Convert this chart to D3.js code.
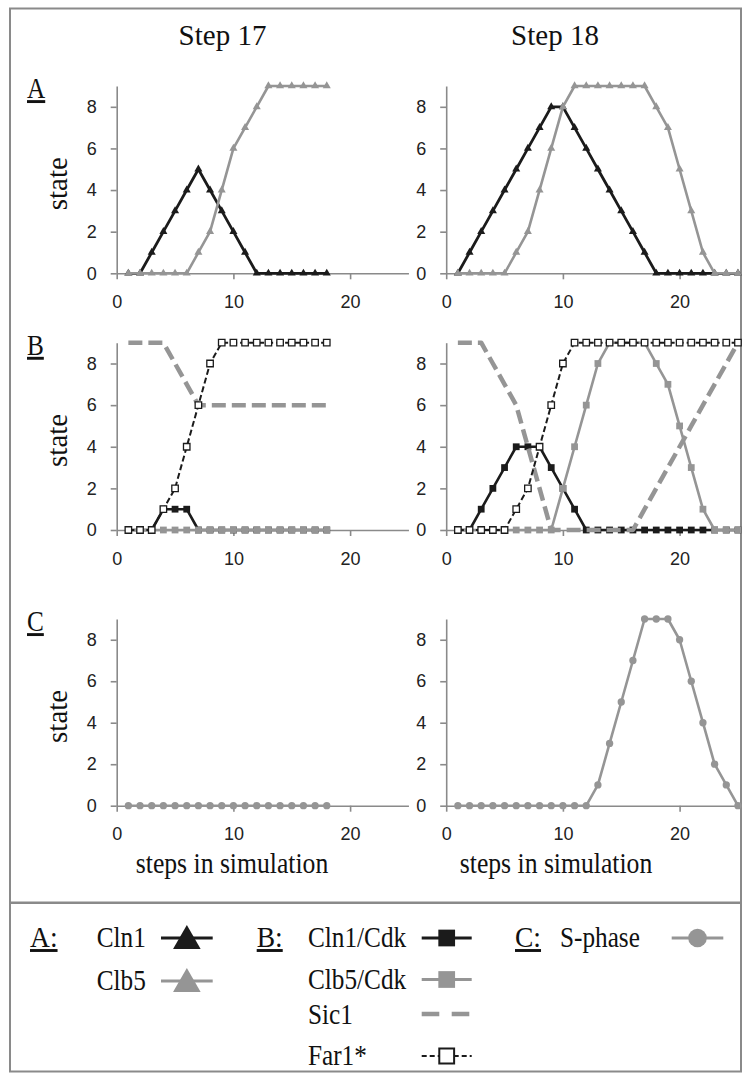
<!DOCTYPE html>
<html>
<head>
<meta charset="utf-8">
<script src="https://cdn.jsdelivr.net/npm/d3@7"></script>
<style>
  body { margin: 0; background: #fff; }
  svg { display: block; }
</style>
</head>
<body>
<script>
// steps along the simulation
var steps17 = [1, 2, 3, 4, 5, 6, 7, 8, 9, 10, 11, 12, 13, 14, 15, 16, 17, 18];
var steps18 = [1, 2, 3, 4, 5, 6, 7, 8, 9, 10, 11, 12, 13, 14, 15, 16, 17, 18, 19, 20, 21, 22, 23, 24, 25];

// A
var cln1_17 = [0, 0, 1, 2, 3, 4, 5, 4, 3, 2, 1, 0, 0, 0, 0, 0, 0, 0];
var clb5_17 = [0, 0, 0, 0, 0, 0, 1, 2, 4, 6, 7, 8, 9, 9, 9, 9, 9, 9];
var cln1_18 = [0, 1, 2, 3, 4, 5, 6, 7, 8, 8, 7, 6, 5, 4, 3, 2, 1, 0, 0, 0, 0, 0, 0, 0, 0];
var clb5_18 = [0, 0, 0, 0, 0, 1, 2, 4, 6, 8, 9, 9, 9, 9, 9, 9, 9, 8, 7, 5, 3, 1, 0, 0, 0];

// B
var cln1cdk_17 = [0, 0, 0, 1, 1, 1, 0, 0, 0, 0, 0, 0, 0, 0, 0, 0, 0, 0];
var clb5cdk_17 = [0, 0, 0, 0, 0, 0, 0, 0, 0, 0, 0, 0, 0, 0, 0, 0, 0, 0];
var sic1_17    = [9, 9, 9, 9, 8, 7, 6, 6, 6, 6, 6, 6, 6, 6, 6, 6, 6, 6];
var far1_17    = [0, 0, 0, 1, 2, 4, 6, 8, 9, 9, 9, 9, 9, 9, 9, 9, 9, 9];
var cln1cdk_18 = [0, 0, 1, 2, 3, 4, 4, 4, 3, 2, 1, 0, 0, 0, 0, 0, 0, 0, 0, 0, 0, 0, 0, 0, 0];
var clb5cdk_18 = [0, 0, 0, 0, 0, 0, 0, 0, 0, 2, 4, 6, 8, 9, 9, 9, 9, 8, 7, 5, 3, 1, 0, 0, 0];
var sic1_18    = [9, 9, 9, 8, 7, 6, 4, 2, 0, 0, 0, 0, 0, 0, 0, 0, 1, 2, 3, 4, 5, 6, 7, 8, 9];
var far1_18    = [0, 0, 0, 0, 0, 1, 2, 4, 6, 8, 9, 9, 9, 9, 9, 9, 9, 9, 9, 9, 9, 9, 9, 9, 9];

// C
var sphase_17 = [0, 0, 0, 0, 0, 0, 0, 0, 0, 0, 0, 0, 0, 0, 0, 0, 0, 0];
var sphase_18 = [0, 0, 0, 0, 0, 0, 0, 0, 0, 0, 0, 0, 1, 3, 5, 7, 9, 9, 9, 8, 6, 4, 2, 1, 0];

var xTicks = [0, 10, 20];
var yTicks = [0, 2, 4, 6, 8];
var columnTitles = ["Step 17", "Step 18"];

const BLACK = "#1b1b1b";
const GRAY = "#959595";
const AXIS = "#8a8a8a";
const SERIF = "'Liberation Serif', 'Times New Roman', serif";
const SANS = "'Liberation Sans', Arial, sans-serif";

var styles = {
    "Cln1":     {stroke: BLACK, width: 2.8, symbol: d3.symbolTriangle, fill: BLACK, size: 28},
    "Clb5":     {stroke: GRAY, width: 2.6, symbol: d3.symbolTriangle, fill: GRAY, size: 28},
    "Cln1/Cdk": {stroke: BLACK, width: 2.6, symbol: d3.symbolSquare, fill: BLACK, size: 46},
    "Clb5/Cdk": {stroke: GRAY, width: 2.6, symbol: d3.symbolSquare, fill: GRAY, size: 46},
    "Sic1":     {stroke: GRAY, width: 4.5, dash: "14,6"},
    "Far1*":    {stroke: BLACK, width: 2, dash: "6,3", symbol: d3.symbolSquare, fill: "#fff", size: 42, outline: BLACK},
    "S-phase":  {stroke: GRAY, width: 2.6, symbol: d3.symbolCircle, fill: GRAY, size: 42}
};

var panels = [
    {key: "A", top: 86, bottom: 273.3, series: [
        {name: "Cln1", left: cln1_17, right: cln1_18},
        {name: "Clb5", left: clb5_17, right: clb5_18}]},
    {key: "B", top: 342.7, bottom: 530, series: [
        {name: "Cln1/Cdk", left: cln1cdk_17, right: cln1cdk_18},
        {name: "Clb5/Cdk", left: clb5cdk_17, right: clb5cdk_18},
        {name: "Sic1", left: sic1_17, right: sic1_18},
        {name: "Far1*", left: far1_17, right: far1_18}]},
    {key: "C", top: 619, bottom: 805.7, series: [
        {name: "S-phase", left: sphase_17, right: sphase_18}]}
];

var columns = [
    {x0: 116.7, steps: steps17, side: "left", titleX: 222.5, axisTitleX: 232},
    {x0: 446.2, steps: steps18, side: "right", titleX: 555, axisTitleX: 556}
];

var svg = d3.select("body").append("svg")
    .attr("width", 751)
    .attr("height", 1079);

// text with a little horizontal squeeze like the original
var addText = function (g, x, y, txt, opts) {
    opts = opts || {};
    var sx = opts.sx || 1;
    var rot = opts.rotate ? " rotate(" + opts.rotate + ")" : "";
    return g.append("text")
        .attr("transform", "translate(" + x + "," + y + ")" + rot + " scale(" + sx + ",1)")
        .attr("text-anchor", opts.anchor || "start")
        .style("font-family", opts.family || SERIF)
        .style("font-size", (opts.size || 29) + "px")
        .style("fill", "#111")
        .style("text-decoration", opts.underline ? "underline" : null)
        .text(txt);
};

// frame
svg.append("rect")
    .attr("x", 10).attr("y", 8.5)
    .attr("width", 731).attr("height", 1063)
    .style("fill", "none").style("stroke", AXIS).style("stroke-width", 2);
svg.append("line")
    .attr("x1", 10).attr("x2", 741).attr("y1", 902.7).attr("y2", 902.7)
    .style("stroke", AXIS).style("stroke-width", 2.5);

columns.forEach(function (col, ci) {
    addText(svg, col.titleX, 45, columnTitles[ci], {anchor: "middle", size: 29});
    addText(svg, col.axisTitleX, 873, "steps in simulation", {anchor: "middle", size: 29, sx: 0.885});
});

panels.forEach(function (p) {
    addText(svg, 27, p.top + 12, p.key, {size: 29, sx: 0.87, underline: true});

    columns.forEach(function (col) {
        var xScale = d3.scaleLinear().domain([0, 25]).range([col.x0, col.x0 + 25 * 11.67]);
        var yScale = d3.scaleLinear().domain([0, 9]).range([p.bottom, p.top]);

        var g = svg.append("g");

        var xAxis = g.append("g")
            .attr("transform", "translate(0," + p.bottom + ")")
            .call(d3.axisBottom(xScale).tickValues(xTicks).tickSize(6).tickSizeOuter(0).tickPadding(16));
        var yAxis = g.append("g")
            .attr("transform", "translate(" + col.x0 + ",0)")
            .call(d3.axisLeft(yScale).tickValues(yTicks).tickSize(6).tickSizeOuter(0).tickPadding(14));

        [xAxis, yAxis].forEach(function (ax) {
            ax.select(".domain").style("stroke", AXIS).style("stroke-width", 1.6);
            ax.selectAll(".tick line").style("stroke", AXIS).style("stroke-width", 1.6);
            ax.selectAll(".tick text")
                .style("font-family", SANS)
                .style("font-size", "18px")
                .style("fill", "#222");
        });

        if (col.side === "left") {
            addText(svg, 67, (p.top + p.bottom) / 2 + 4, "state", {anchor: "middle", size: 29, rotate: -90});
        }

        p.series.forEach(function (s) {
            var st = styles[s.name];
            var values = s[col.side];
            var pts = values.map(function (v, i) { return {x: col.steps[i], y: v}; });

            var line = d3.line()
                .x(function (d) { return xScale(d.x); })
                .y(function (d) { return yScale(d.y); });

            g.append("path")
                .attr("d", line(pts))
                .style("fill", "none")
                .style("stroke", st.stroke)
                .style("stroke-width", st.width)
                .style("stroke-dasharray", st.dash || null)
                .style("stroke-linejoin", "round");

            if (st.symbol) {
                g.selectAll(null)
                    .data(pts)
                    .enter().append("path")
                    .attr("transform", function (d) { return "translate(" + xScale(d.x) + "," + yScale(d.y) + ")"; })
                    .attr("d", d3.symbol().type(st.symbol).size(st.size))
                    .style("fill", st.fill)
                    .style("stroke", st.outline || "none")
                    .style("stroke-width", st.outline ? 1.3 : 0);
            }
        });
    });
});

// legend
var legendGroups = [
    {label: "A:", x: 30, textX: 96.7, symX0: 161, symX1: 212.7, items: [
        {name: "Cln1", y: 947}, {name: "Clb5", y: 990}]},
    {label: "B:", x: 256.7, textX: 308, symX0: 421.7, symX1: 471.7, items: [
        {name: "Cln1/Cdk", y: 947}, {name: "Clb5/Cdk", y: 988.5},
        {name: "Sic1", y: 1023.5}, {name: "Far1*", y: 1065}]},
    {label: "C:", x: 515, textX: 560, symX0: 671.7, symX1: 723.3, items: [
        {name: "S-phase", y: 947}]}
];

var legendSizes = {"Cln1": 330, "Clb5": 330, "Cln1/Cdk": 280, "Clb5/Cdk": 280, "Far1*": 220, "S-phase": 272};

legendGroups.forEach(function (lg) {
    addText(svg, lg.x, 947, lg.label, {size: 29, sx: 0.95, underline: true});
    lg.items.forEach(function (it) {
        var st = styles[it.name];
        addText(svg, lg.textX, it.y, it.name, {size: 29, sx: 0.87});
        var ly = it.y - 9;
        var cx = (lg.symX0 + lg.symX1) / 2;
        if (it.name === "Sic1") {
            svg.append("line")
                .attr("x1", lg.symX0).attr("x2", lg.symX1 - 2)
                .attr("y1", ly - 0.5).attr("y2", ly - 0.5)
                .style("stroke", GRAY).style("stroke-width", 4.5)
                .style("stroke-dasharray", "17.6,12.4");
            return;
        }
        svg.append("line")
            .attr("x1", lg.symX0).attr("x2", lg.symX1)
            .attr("y1", ly).attr("y2", ly)
            .style("stroke", st.stroke)
            .style("stroke-width", it.name === "Far1*" ? 2 : 3)
            .style("stroke-dasharray", it.name === "Far1*" ? "5,3" : null);
        var dy = st.symbol === d3.symbolTriangle ? 3 : 0;
        svg.append("path")
            .attr("transform", "translate(" + cx + "," + (ly + dy) + ")")
            .attr("d", d3.symbol().type(st.symbol).size(legendSizes[it.name]))
            .style("fill", st.fill)
            .style("stroke", st.outline || "none")
            .style("stroke-width", st.outline ? 2 : 0);
    });
});
</script>
</body>
</html>
